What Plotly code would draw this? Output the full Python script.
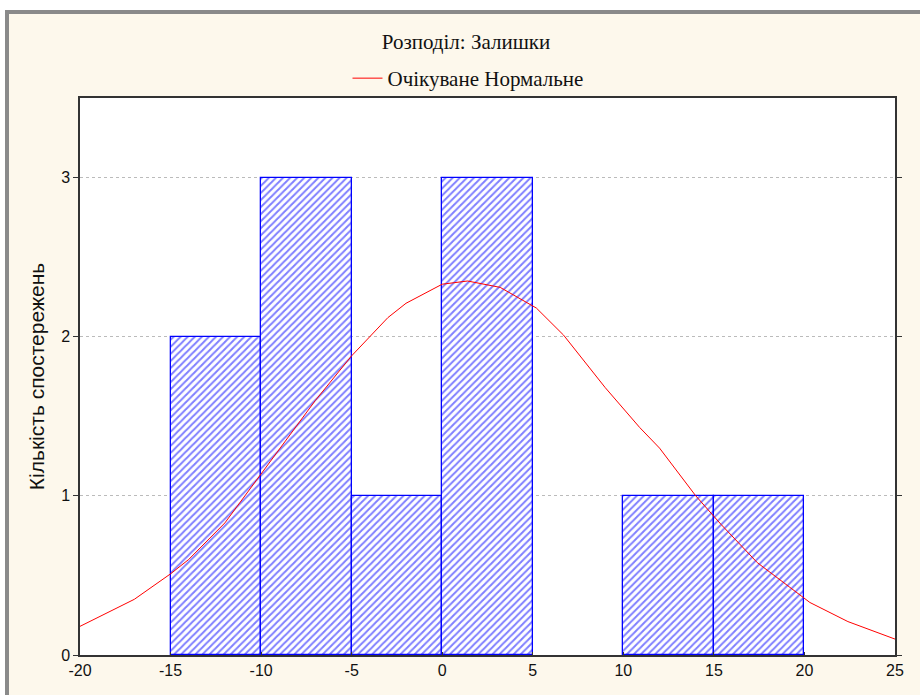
import plotly.graph_objects as go

# Histogram data (bin centers, counts) — the empty 5..10 bin is not drawn
bin_centers = [-12.5, -7.5, -2.5, 2.5, 12.5, 17.5]
counts = [2, 3, 1, 3, 1, 1]
bin_width = 5

# Expected normal curve
curve_x = [-20, -17, -15, -14, -12, -10, -7, -5, -3, -2, 0, 1.4, 3.2, 5.2, 6.7, 9,
           10.9, 12, 14, 15.4, 17.4, 20.3, 22.4, 25]
curve_y = [0.18, 0.35, 0.51, 0.6, 0.83, 1.14, 1.6, 1.88, 2.12, 2.21, 2.33, 2.35, 2.31,
           2.18, 2.01, 1.68, 1.43, 1.3, 1.0, 0.82, 0.58, 0.33, 0.21, 0.1]

x_ticks = [-20, -15, -10, -5, 0, 5, 10, 15, 20, 25]
y_ticks = [0, 1, 2, 3]

title_text = "Розподіл: Залишки"
legend_text = "Очікуване Нормальне"
y_title = "Кількість спостережень"

W, H = 920, 695
L, R, T, B = 80, 25, 98, 40
pw, ph = W - L - R, H - T - B


def px_x(p):
    return (p - L) / pw


def px_y(p):
    return (H - B - p) / ph


fig = go.Figure()
fig.add_trace(go.Bar(
    x=bin_centers, y=counts, width=[bin_width] * len(counts),
    marker=dict(color="white", line=dict(color="#0000FF", width=1.3),
                pattern=dict(shape="/", fgcolor="#0000FF", bgcolor="white",
                             size=5, solidity=0.4)),
    showlegend=False, hoverinfo="skip",
))
fig.add_trace(go.Scatter(
    x=curve_x, y=curve_y, mode="lines", name=legend_text,
    line=dict(color="#FF0000", width=1),
))

fig.update_layout(
    width=W, height=H,
    margin=dict(l=L, r=R, t=T, b=B),
    paper_bgcolor="white",
    plot_bgcolor="white",
    bargap=0,
    title=dict(text=title_text, x=466 / W, xref="container", xanchor="center",
               y=1 - 42 / H, yref="container", yanchor="middle",
               font=dict(family="Liberation Serif", size=21, color="#111")),
    showlegend=True,
    legend=dict(orientation="h", x=px_x(468), xanchor="center",
                y=px_y(58), yanchor="top", bgcolor="rgba(0,0,0,0)",
                font=dict(family="Liberation Serif", size=21, color="#111"),
                itemwidth=30),
    shapes=[
        dict(type="rect", xref="paper", yref="paper", layer="below",
             x0=px_x(7), x1=px_x(935), y0=px_y(710), y1=px_y(12),
             fillcolor="#FDF8EC", line=dict(color="#8a8a8a", width=4)),
        dict(type="rect", xref="paper", yref="paper", layer="below",
             x0=0, x1=1, y0=0, y1=1, fillcolor="white", line=dict(width=0)),
    ],
    xaxis=dict(range=[-20, 25], tickvals=x_ticks, ticktext=[str(v) for v in x_ticks],
               showgrid=False, zeroline=False, showline=True, linecolor="#333",
               linewidth=1.5, mirror=True, ticks="inside", ticklen=3,
               tickcolor="#333",
               tickfont=dict(family="Liberation Sans", size=16, color="#111")),
    yaxis=dict(range=[0, 3.5], tickvals=y_ticks, ticktext=[str(v) for v in y_ticks],
               showgrid=True, gridcolor="#bbbbbb", griddash="dot", gridwidth=1,
               zeroline=False, showline=True, linecolor="#333", linewidth=1.5,
               mirror="ticks", ticks="outside", ticklen=5, tickcolor="#333",
               tickfont=dict(family="Liberation Sans", size=16, color="#111"),
               title=dict(text=y_title, standoff=11,
                          font=dict(family="Liberation Sans", size=21, color="#111"))),
)

fig.write_html("out.html")
